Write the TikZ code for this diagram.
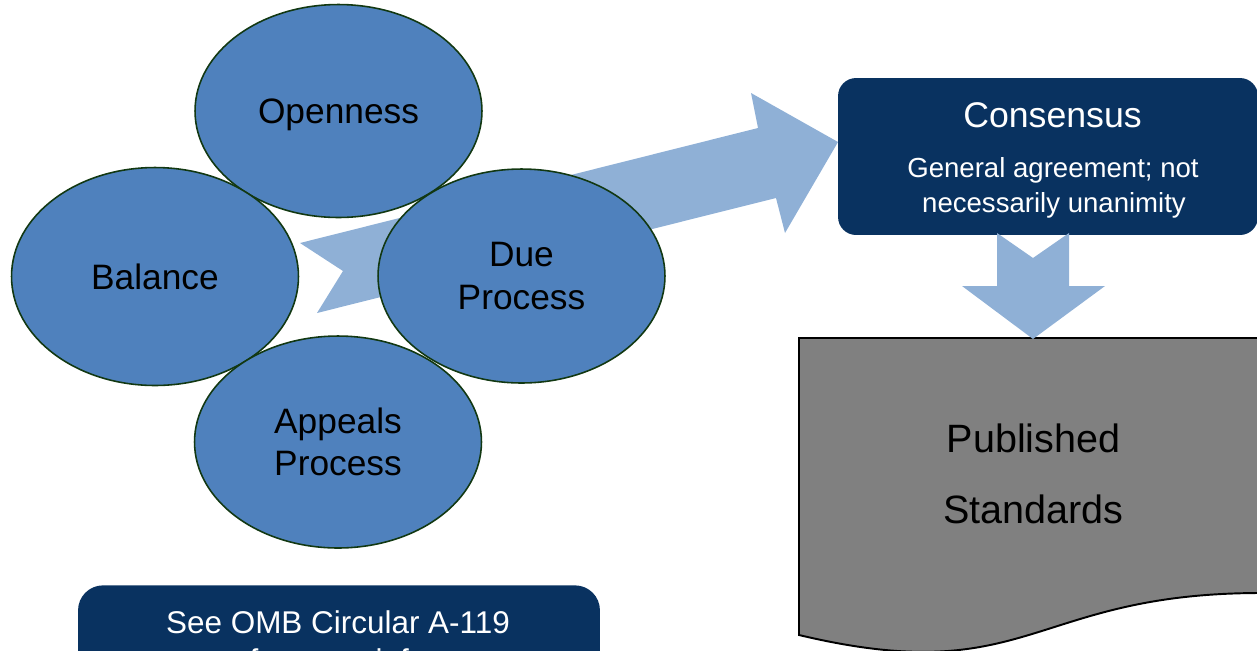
\documentclass[tikz,border=0pt]{standalone}
\usepackage{fontspec}
\setmainfont{Liberation Sans}
\usetikzlibrary{shapes.geometric}
\definecolor{bubble}{RGB}{79,129,189}
\definecolor{bubbleline}{RGB}{18,56,18}
\definecolor{flow}{RGB}{143,176,214}
\definecolor{navy}{RGB}{9,50,96}
\definecolor{paper}{RGB}{128,128,128}
\begin{document}
\begin{tikzpicture}[x=0.02cm,y=-0.02cm,
  principle/.style={ellipse, draw=bubbleline, line width=0.9pt, fill=bubble,
    minimum width=5.74cm, inner sep=0pt, align=center,
    font=\fontsize{20.1}{24}\selectfont},
  flowarrow/.style={fill=flow, draw=none},
  panel/.style={rectangle, fill=navy, draw=none, inner sep=0pt},
  lighttext/.style={text=white, inner sep=0pt, anchor=base},
  docshape/.style={fill=paper, draw=black, line width=1.1pt, line join=miter}]

\useasboundingbox (0,0) rectangle (1257,650);
\clip (0,0) rectangle (1257,650);

% wide arrow running behind the principles towards the consensus box
\fill[flowarrow] (300,243) -- (343,271) -- (317,313) -- (776,198) -- (785,233)
  -- (838,142) -- (751,93) -- (758,128) -- cycle;

% the four principles
\node[principle, minimum height=4.26cm, text depth=0pt] (open) at (338.5,111) {Openness};
\node[principle, minimum height=4.36cm] (bal)  at (155,276.5) {Balance};
\node[principle, minimum height=4.28cm] (due)  at (521.5,276) {Due\\Process};
\node[principle, minimum height=4.24cm] (app)  at (338,442) {Appeals\\Process};

% consensus box
\node[panel, minimum width=8.4cm, minimum height=3.14cm, rounded corners=0.36cm]
  (cons) at (1048,156.5) {};
\node[lighttext, font=\fontsize{20.3}{24}\selectfont] (constitle) at (1052.5,127) {Consensus};
\node[lighttext, font=\fontsize{15.7}{19}\selectfont] (conssuba) at (1053,177.7) {General agreement; not};
\node[lighttext, font=\fontsize{15.7}{19}\selectfont] (conssubb) at (1054,212.7) {necessarily unanimity};

% published standards document
\draw[docshape] (799,338) -- (1261,338) -- (1261,593)
  .. controls (1030,593) and (1030,690) .. (799,635) -- cycle;
\node[align=center, inner sep=0pt, font=\fontsize{22.5}{40.8}\selectfont]
  (pub) at (1033.5,474) {Published\\Standards};

% arrow from consensus down to the document
\fill[flowarrow] (997,233) -- (1033,258) -- (1069,233) -- (1069,286) -- (1105,286)
  -- (1033,339) -- (962,286) -- (997,286) -- cycle;

% reference note
\node[panel, minimum width=10.44cm, minimum height=3cm, rounded corners=0.5cm, anchor=north]
  (ombbox) at (339,585) {};
\node[lighttext, font=\fontsize{17.9}{21.5}\selectfont] (omba) at (338,633) {See OMB Circular A-119};
\node[lighttext, font=\fontsize{17.9}{21.5}\selectfont] (ombb) at (338,671) {for more info};
\end{tikzpicture}
\end{document}
